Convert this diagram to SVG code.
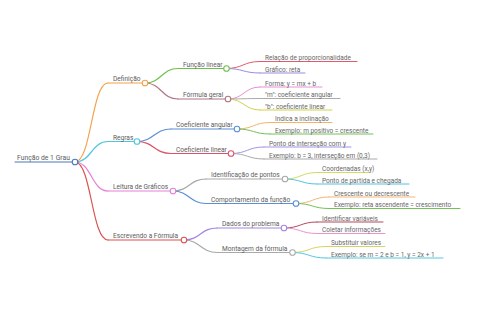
<svg xmlns="http://www.w3.org/2000/svg" width="480" height="320" viewBox="0 0 480 320">
<style>
.t{font-family:Roboto,"Liberation Sans",sans-serif;fill:#5c5c5c}
.a{font-size:6.8px}
.b{font-size:6.6px}
.c{font-size:6.5px;fill:#666}
path{fill:none;stroke-width:1.2;stroke-linecap:round}
.u{stroke-width:1}
circle{fill:#fff;stroke-width:1.1}
</style>
<rect width="480" height="320" fill="#fff"/>
<g id="connectors">
<path d="M75,162 C91.5,162 91.5,83 108,83" stroke="#f5a04a"/>
<path d="M75,162 C91.5,162 91.5,141.5 108,141.5" stroke="#4fc6dc"/>
<path d="M75,162 C91.5,162 91.5,191 108,191" stroke="#e57fd8"/>
<path d="M75,162 C91.5,162 91.5,240 108,240" stroke="#d9534f"/>
<path d="M145,83 C161.5,83 161.5,68.5 178,68.5" stroke="#6cc04a"/>
<path d="M145,83 C161.5,83 161.5,99 178,99" stroke="#b07484"/>
<path d="M137,141.5 C154,141.5 154,129 171,129" stroke="#5b8fd6"/>
<path d="M137,141.5 C154,141.5 154,153.5 171,153.5" stroke="#d9536a"/>
<path d="M173,191 C189.5,191 189.5,179 206,179" stroke="#a9a9a9"/>
<path d="M173,191 C189.5,191 189.5,203.5 206,203.5" stroke="#5b8fd6"/>
<path d="M184,240 C200.5,240 200.5,228 217,228" stroke="#a585e0"/>
<path d="M184,240 C200.5,240 200.5,252.5 217,252.5" stroke="#a9a9a9"/>
<path d="M226.5,68.5 C243,68.5 243,61.5 260,61.5" stroke="#e45a6a" class="u"/>
<path d="M226.5,68.5 C243,68.5 243,73 260,73" stroke="#9b8ae0" class="u"/>
<path d="M228,99 C244,99 244,87 260,87" stroke="#ea8fd4" class="u"/>
<path d="M228,99 C244,99 244,98.5 260,98.5" stroke="#aaaaaa" class="u"/>
<path d="M228,99 C244,99 244,110 260,110" stroke="#cfd24a" class="u"/>
<path d="M237,129 C253.5,129 253.5,122.5 270,122.5" stroke="#f5b368" class="u"/>
<path d="M237,129 C253.5,129 253.5,134 270,134" stroke="#72c255" class="u"/>
<path d="M231,153.5 C247.5,153.5 247.5,147 264,147" stroke="#a593e2" class="u"/>
<path d="M231,153.5 C247.5,153.5 247.5,159 264,159" stroke="#aaaaaa" class="u"/>
<path d="M285,179 C301,179 301,172.5 317,172.5" stroke="#d4da64" class="u"/>
<path d="M285,179 C301,179 301,184 317,184" stroke="#55c2e2" class="u"/>
<path d="M296,203.5 C312.5,203.5 312.5,197 329,197" stroke="#f5b574" class="u"/>
<path d="M296,203.5 C312.5,203.5 312.5,208.5 329,208.5" stroke="#72c255" class="u"/>
<path d="M284,228 C300.5,228 300.5,222 317,222" stroke="#b4485a" class="u"/>
<path d="M284,228 C300.5,228 300.5,233.5 317,233.5" stroke="#ea93cc" class="u"/>
<path d="M292.5,252.5 C309,252.5 309,246.5 326,246.5" stroke="#d4d464" class="u"/>
<path d="M292.5,252.5 C309,252.5 309,258 326,258" stroke="#55c8e2" class="u"/>
</g>
<g id="root">
<path d="M15,162 H72.2" stroke="#4a78c2"/>
<circle cx="75" cy="162" r="2.8" stroke="#4a78c2"/>
<text class="t a" x="17" y="159.5">Função de 1 Grau</text>
</g>
<g id="definicao">
<path d="M108,83 H142.2" stroke="#f5a04a"/>
<circle cx="145" cy="83" r="2.8" stroke="#f5a04a"/>
<text class="t b" x="113" y="81">Definição</text>
</g>
<g id="regras">
<path d="M108,141.5 H134.2" stroke="#4fc6dc"/>
<circle cx="137" cy="141.5" r="2.8" stroke="#4fc6dc"/>
<text class="t b" x="113" y="139.5">Regras</text>
</g>
<g id="leitura">
<path d="M108,191 H170.2" stroke="#e57fd8"/>
<circle cx="173" cy="191" r="2.8" stroke="#e57fd8"/>
<text class="t b" x="113" y="189">Leitura de Gráficos</text>
</g>
<g id="escrevendo">
<path d="M108,240 H181.2" stroke="#d9534f"/>
<circle cx="184" cy="240" r="2.8" stroke="#d9534f"/>
<text class="t b" x="113" y="238">Escrevendo a Fórmula</text>
</g>
<g id="funcao-linear">
<path d="M178,68.5 H223.7" stroke="#6cc04a"/>
<circle cx="226.5" cy="68.5" r="2.8" stroke="#6cc04a"/>
<text class="t b" x="183" y="66.5">Função linear</text>
</g>
<g id="formula-geral">
<path d="M178,99 H225.2" stroke="#b07484"/>
<circle cx="228" cy="99" r="2.8" stroke="#b07484"/>
<text class="t b" x="183" y="97">Fórmula geral</text>
</g>
<g id="coef-angular">
<path d="M171,129 H234.2" stroke="#5b8fd6"/>
<circle cx="237" cy="129" r="2.8" stroke="#5b8fd6"/>
<text class="t b" x="176" y="127">Coeficiente angular</text>
</g>
<g id="coef-linear">
<path d="M171,153.5 H228.2" stroke="#d9536a"/>
<circle cx="231" cy="153.5" r="2.8" stroke="#d9536a"/>
<text class="t b" x="176" y="151.5">Coeficiente linear</text>
</g>
<g id="identificacao">
<path d="M206,179 H282.2" stroke="#a9a9a9"/>
<circle cx="285" cy="179" r="2.8" stroke="#a9a9a9"/>
<text class="t b" x="211" y="177">Identificação de pontos</text>
</g>
<g id="comportamento">
<path d="M206,203.5 H293.2" stroke="#5b8fd6"/>
<circle cx="296" cy="203.5" r="2.8" stroke="#5b8fd6"/>
<text class="t b" x="211" y="201.5">Comportamento da função</text>
</g>
<g id="dados">
<path d="M217,228 H281.2" stroke="#a585e0"/>
<circle cx="284" cy="228" r="2.8" stroke="#a585e0"/>
<text class="t b" x="222" y="226">Dados do problema</text>
</g>
<g id="montagem">
<path d="M217,252.5 H289.7" stroke="#a9a9a9"/>
<circle cx="292.5" cy="252.5" r="2.8" stroke="#a9a9a9"/>
<text class="t b" x="222" y="250.5">Montagem da fórmula</text>
</g>
<g id="relacao"><path class="u" d="M260,61.5 H357" stroke="#e45a6a"/><text class="t c" x="265" y="60">Relação de proporcionalidade</text></g>
<g id="grafico"><path class="u" d="M260,73 H305" stroke="#9b8ae0"/><text class="t c" x="265" y="71.5">Gráfico: reta</text></g>
<g id="forma"><path class="u" d="M260,87 H322" stroke="#ea8fd4"/><text class="t c" x="265" y="85.5">Forma: y = mx + b</text></g>
<g id="m-coef"><path class="u" d="M260,98.5 H340" stroke="#aaaaaa"/><text class="t c" x="265" y="97">"m": coeficiente angular</text></g>
<g id="b-coef"><path class="u" d="M260,110 H332" stroke="#cfd24a"/><text class="t c" x="265" y="108.5">"b": coeficiente linear</text></g>
<g id="indica"><path class="u" d="M270,122.5 H332" stroke="#f5b368"/><text class="t c" x="275" y="121">Indica a inclinação</text></g>
<g id="ex-m"><path class="u" d="M270,134 H373" stroke="#72c255"/><text class="t c" x="275" y="132.5">Exemplo: m positivo = crescente</text></g>
<g id="ponto-intersecao"><path class="u" d="M264,147 H351" stroke="#a593e2"/><text class="t c" x="269" y="145.5">Ponto de interseção com y</text></g>
<g id="ex-b"><path class="u" d="M264,159 H377" stroke="#aaaaaa"/><text class="t c" x="269" y="157.5">Exemplo: b = 3, interseção em (0,3)</text></g>
<g id="coordenadas"><path class="u" d="M317,172.5 H370" stroke="#d4da64"/><text class="t c" x="322" y="171">Coordenadas (x,y)</text></g>
<g id="partida"><path class="u" d="M317,184 H409" stroke="#55c2e2"/><text class="t c" x="322" y="182.5">Ponto de partida e chegada</text></g>
<g id="crescente"><path class="u" d="M329,197 H415" stroke="#f5b574"/><text class="t c" x="334" y="195.5">Crescente ou decrescente</text></g>
<g id="ex-reta"><path class="u" d="M329,208.5 H460" stroke="#72c255"/><text class="t c" x="334" y="207">Exemplo: reta ascendente = crescimento</text></g>
<g id="identificar"><path class="u" d="M317,222 H383" stroke="#b4485a"/><text class="t c" x="322" y="220.5">Identificar variáveis</text></g>
<g id="coletar"><path class="u" d="M317,233.5 H385" stroke="#ea93cc"/><text class="t c" x="322" y="232">Coletar informações</text></g>
<g id="substituir"><path class="u" d="M326,246.5 H385" stroke="#d4d464"/><text class="t c" x="331" y="245">Substituir valores</text></g>
<g id="ex-se"><path class="u" d="M326,258 H443" stroke="#55c8e2"/><text class="t c" x="331" y="256.5">Exemplo: se m = 2 e b = 1, y = 2x + 1</text></g>
</svg>
